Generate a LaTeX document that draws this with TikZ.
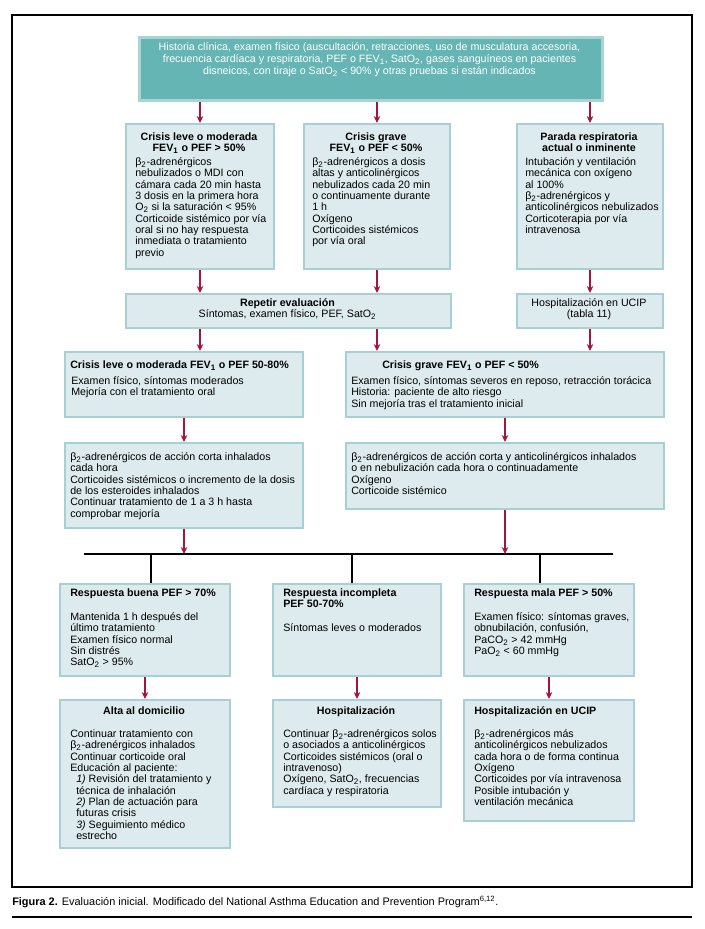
\documentclass[tikz,border=0pt]{standalone}
\usepackage{fontspec}
\setmainfont{Liberation Sans}
\usetikzlibrary{arrows.meta,calc}
\newlength\px
\setlength\px{0.75pt}
\definecolor{topfill}{RGB}{102,181,181}
\definecolor{topbord}{RGB}{168,212,212}
\definecolor{boxfill}{RGB}{221,235,238}
\definecolor{boxbord}{RGB}{166,208,212}
\definecolor{arrc}{RGB}{163,20,62}
\newcommand\sub[1]{\textsubscript{#1}}
\newcommand\bodyfont{\fontsize{8pt}{8.5pt}\selectfont}
\tikzset{
  lbox/.style={draw=boxbord, fill=boxfill, line width=1.5pt, inner sep=0pt, anchor=north west},
  tbox/.style={draw=topbord, fill=topfill, line width=1.9pt, inner sep=0pt, anchor=north west},
  txt/.style={inner sep=0pt, anchor=north west, align=left, font=\bodyfont},
  ctxt/.style={inner sep=0pt, anchor=north, align=center, font=\bodyfont},
  ttl/.style={txt, font=\bodyfont\bfseries},
  cttl/.style={ctxt, font=\bodyfont\bfseries},
  arr/.style={draw=arrc, line width=1.3pt, -{Stealth[length=5.2pt,width=4.9pt]}},
  blk/.style={draw=black, line width=1.6pt},
}
\begin{document}
\begin{tikzpicture}[x=0.75pt,y=-0.75pt]
\useasboundingbox (0,0) rectangle (705,929);
% outer frame
\draw[line width=1pt] (12,15) rectangle (692,887);
% top box
\node[tbox, minimum width=463\px, minimum height=63\px] (top) at (138,36) {};
\node[ctxt, text=white, font=\fontsize{8pt}{9pt}\selectfont] (topT) at (369.5,42.5)
 {Historia clínica, examen físico (auscultación, retracciones, uso de musculatura accesoria,\\
  frecuencia cardíaca y respiratoria, PEF o FEV\sub{1}, SatO\sub{2}, gases sanguíneos en pacientes\\
  disneicos, con tiraje o SatO\sub{2} < 90\% y otras pruebas si están indicados};
% row 2
\node[lbox, minimum width=148\px, minimum height=145\px] (A) at (125,123) {};
\node[lbox, minimum width=146\px, minimum height=145\px] (B) at (303,123) {};
\node[lbox, minimum width=146\px, minimum height=145\px] (C) at (516,123) {};
\node[cttl] (At) at (199,132.5) {Crisis leve o moderada\\FEV\sub{1} o PEF > 50\%};
\node[txt] (Ab) at (135,157.5) {β\sub{2}-adrenérgicos\\nebulizados o MDI con\\cámara cada 20 min hasta\\3 dosis en la primera hora\\O\sub{2} si la saturación < 95\%\\Corticoide sistémico por vía\\oral si no hay respuesta\\inmediata o tratamiento\\previo};
\node[cttl] (Bt) at (376,132.5) {Crisis grave\\FEV\sub{1} o PEF < 50\%};
\node[txt] (Bb) at (312,157.5) {β\sub{2}-adrenérgicos a dosis\\altas y anticolinérgicos\\nebulizados cada 20 min\\o continuamente durante\\1 h\\Oxígeno\\Corticoides sistémicos\\por vía oral};
\node[cttl] (Ct) at (589,132.5) {Parada respiratoria\\actual o inminente};
\node[txt] (Cb) at (525,157.5) {Intubación y ventilación\\mecánica con oxígeno\\al 100\%\\β\sub{2}-adrenérgicos y\\anticolinérgicos nebulizados\\Corticoterapia por vía\\intravenosa};
% row 3
\node[lbox, minimum width=325\px, minimum height=34\px] (R) at (125,293) {};
\node[ctxt] (Rt) at (287.5,298.5) {\textbf{Repetir evaluación}\\Síntomas, examen físico, PEF, SatO\sub{2}};
\node[lbox, minimum width=146\px, minimum height=34\px] (U) at (516,293) {};
\node[ctxt] (Ut) at (589,298.5) {Hospitalización en UCIP\\(tabla 11)};
% row 4
\node[lbox, minimum width=238\px, minimum height=65\px] (L4) at (64,351) {};
\node[ttl] (L4t) at (70,360.5) {Crisis leve o moderada FEV\sub{1} o PEF 50-80\%};
\node[txt] (L4b) at (71,376.5) {Examen físico, síntomas moderados\\Mejoría con el tratamiento oral};
\node[lbox, minimum width=318\px, minimum height=65\px] (R4) at (345,351) {};
\node[ttl] (R4t) at (382,360.5) {Crisis grave FEV\sub{1} o PEF < 50\%};
\node[txt] (R4b) at (351,376.5) {Examen físico, síntomas severos en reposo, retracción torácica\\Historia: paciente de alto riesgo\\Sin mejoría tras el tratamiento inicial};
% row 5
\node[lbox, minimum width=238\px, minimum height=85\px] (L5) at (64,442) {};
\node[txt] (L5b) at (70,452.5) {β\sub{2}-adrenérgicos de acción corta inhalados\\cada hora\\Corticoides sistémicos o incremento de la dosis\\de los esteroides inhalados\\Continuar tratamiento de 1 a 3 h hasta\\comprobar mejoría};
\node[lbox, minimum width=318\px, minimum height=66\px] (R5) at (345,442) {};
\node[txt] (R5b) at (351,452.5) {β\sub{2}-adrenérgicos de acción corta y anticolinérgicos inhalados\\o en nebulización cada hora o continuadamente\\Oxígeno\\Corticoide sistémico};
% horizontal line
\coordinate (hl) at (84,554);
\coordinate (hr) at (613,554);
\coordinate (s1) at (151,554);
\coordinate (s2) at (352,554);
\coordinate (s3) at (540,554);
\draw[blk] (hl) -- (hr);
% row 6
\node[lbox, minimum width=170\px, minimum height=92\px] (G6) at (59,583) {};
\node[ttl] (G6t) at (70,588.5) {Respuesta buena PEF > 70\%};
\node[txt] (G6b) at (70,612.5) {Mantenida 1 h después del\\último tratamiento\\Examen físico normal\\Sin distrés\\SatO\sub{2} > 95\%};
\node[lbox, minimum width=168\px, minimum height=92\px] (I6) at (272,583) {};
\node[ttl] (I6t) at (283,588.5) {Respuesta incompleta\\PEF 50-70\%};
\node[txt] (I6b) at (283,623.5) {Síntomas leves o moderados};
\node[lbox, minimum width=170\px, minimum height=92\px] (M6) at (463,583) {};
\node[ttl] (M6t) at (474,588.5) {Respuesta mala PEF > 50\%};
\node[txt] (M6b) at (474,612.5) {Examen físico: síntomas graves,\\obnubilación, confusión,\\PaCO\sub{2} > 42 mmHg\\PaO\sub{2} < 60 mmHg};
% row 7
\node[lbox, minimum width=170\px, minimum height=148\px] (G7) at (59,699) {};
\node[cttl] (G7t) at (144,706.5) {Alta al domicilio};
\node[txt] (G7b) at (70,729.5) {Continuar tratamiento con\\β\sub{2}-adrenérgicos inhalados\\Continuar corticoide oral\\Educación al paciente:\\
 \hspace*{6\px}\textit{1)} Revisión del tratamiento y\\\hspace*{6\px}técnica de inhalación\\
 \hspace*{6\px}\textit{2)} Plan de actuación para\\\hspace*{6\px}futuras crisis\\
 \hspace*{6\px}\textit{3)} Seguimiento médico\\\hspace*{6\px}estrecho};
\node[lbox, minimum width=168\px, minimum height=107\px] (I7) at (272,699) {};
\node[cttl] (I7t) at (356,706.5) {Hospitalización};
\node[txt] (I7b) at (283,729.5) {Continuar β\sub{2}-adrenérgicos solos\\o asociados a anticolinérgicos\\Corticoides sistémicos (oral o\\intravenoso)\\Oxígeno, SatO\sub{2}, frecuencias\\cardíaca y respiratoria};
\node[lbox, minimum width=170\px, minimum height=121\px] (M7) at (463,699) {};
\node[ttl] (M7t) at (474,706.5) {Hospitalización en UCIP};
\node[txt] (M7b) at (474,729.5) {β\sub{2}-adrenérgicos más\\anticolinérgicos nebulizados\\cada hora o de forma continua\\Oxígeno\\Corticoides por vía intravenosa\\Posible intubación y\\ventilación mecánica};
% connectors
\draw[arr] (A.north |- top.south) -- (A.north);
\draw[arr] (B.north |- top.south) -- (B.north);
\draw[arr] (C.north |- top.south) -- (C.north);
\draw[arr] (A.south) -- (A.south |- R.north);
\draw[arr] (B.south) -- (B.south |- R.north);
\draw[arr] (C.south) -- (U.north);
\draw[arr] (R.south -| A.south) -- (L4.north -| A.south);
\draw[arr] (R.south -| B.south) -- (R4.north -| B.south);
\draw[arr] (U.south) -- (U.south |- R4.north);
\draw[arr] (L4.south) -- (L5.north);
\draw[arr] (R4.south) -- (R5.north);
\draw[arr] (L5.south) -- (L5.south |- hl);
\draw[arr] (R5.south) -- (R5.south |- hl);
\draw[blk] (s1) -- (s1 |- G6.north);
\draw[blk] (s2) -- (s2 |- I6.north);
\draw[blk] (s3) -- (s3 |- M6.north);
\draw[arr] (G6.south) -- (G7.north);
\draw[arr] (I6.south) -- (I7.north);
\draw[arr] (M6.south) -- (M7.north);
% caption
\node[inner sep=0pt, anchor=west, font=\fontsize{8.2pt}{9pt}\selectfont] (cap) at (12,902) {\textbf{Figura 2.} Evaluación inicial. Modificado del National Asthma Education and Prevention Program\textsuperscript{6,12}.};
\draw[line width=0.8pt] (12,917) -- (692,917);
\end{tikzpicture}
\end{document}
